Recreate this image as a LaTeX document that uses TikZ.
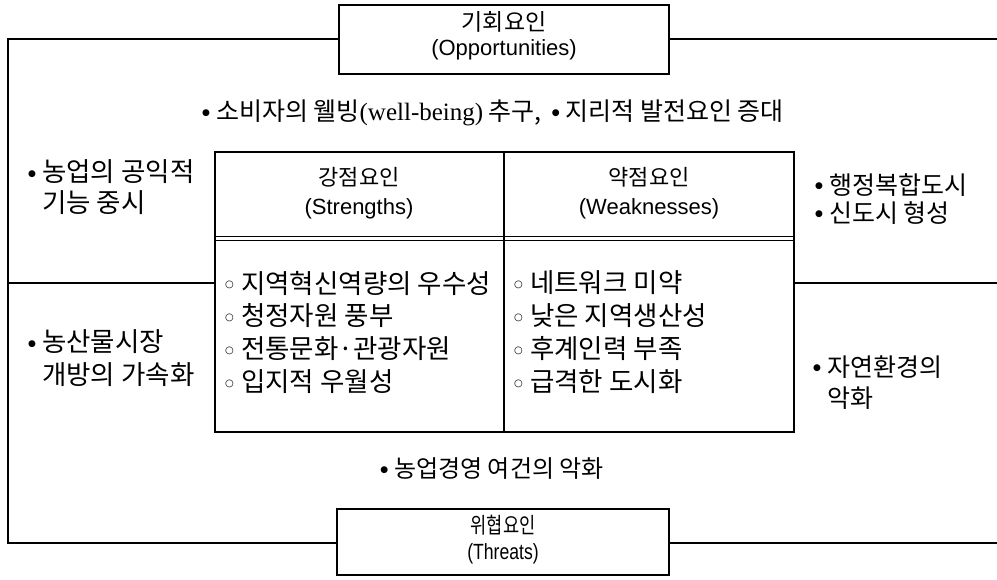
\documentclass[tikz,border=0pt]{standalone}
\usepackage{fontspec}
\setmainfont{Noto Sans CJK KR}
\newfontfamily\krf{Noto Sans CJK KR}
\newfontfamily\krnarrow{Noto Sans CJK KR}[FakeStretch=0.8]
\newfontfamily\latf{Liberation Sans}
\newfontfamily\latnarrow{Liberation Sans}[FakeStretch=0.8]
\newfontfamily\serf{Liberation Serif}
\newfontfamily\symf{DejaVu Sans}
\newcommand{\bul}{\makebox[14pt][l]{\raisebox{5.5pt}{\symf\fontsize{9}{9}\selectfont ●}}}
\newcommand{\cir}{\makebox[16pt][l]{\raisebox{5.5pt}{\symf\fontsize{10}{10}\selectfont ○}}}
\begin{document}
\begin{tikzpicture}[x=1pt,y=-1pt,
  frame/.style={line width=1.2pt, black},
  txt/.style={inner sep=0pt, font=\krf\fontsize{25}{25}\selectfont},
  lt/.style={txt, anchor=west},
  sl/.style={txt, anchor=west, font=\krf\fontsize{26.5}{26.5}\selectfont},
  ct/.style={txt, anchor=west, font=\krf\fontsize{26.5}{26.5}\selectfont},
  hd/.style={txt, font=\krf\fontsize{22}{22}\selectfont},
  hl/.style={txt, font=\latf\fontsize{22}{22}\selectfont}]
\useasboundingbox (0,0) rectangle (997,579);
% boxes
\node[draw, frame, minimum width=330pt, minimum height=69pt, inner sep=0pt] (opp) at (504,39.5) {};
\node[draw, frame, minimum width=332pt, minimum height=66pt, inner sep=0pt] (thr) at (503,542) {};
\node[draw, frame, minimum width=579pt, minimum height=280pt, inner sep=0pt] (ctr) at (504.5,292) {};
% outer frame
\coordinate (tl) at (8,39);
\coordinate (tr) at (997,39);
\coordinate (bl) at (8,543);
\coordinate (br) at (997,543);
\draw[frame] (opp.west |- tl) -- (tl) -- (bl) -- (thr.west |- bl);
\draw[frame] (opp.east |- tr) -- (tr);
\draw[frame] (thr.east |- br) -- (br);
% centre dividers
\coordinate (mt) at (504,152);
\coordinate (mb) at (504,432);
\draw[frame] (mt) -- (mb);
\draw[line width=0.9pt] (ctr.west |- 0,236) -- (ctr.east |- 0,236);
\draw[line width=0.9pt] (ctr.west |- 0,240) -- (ctr.east |- 0,240);
% side dividers
\coordinate (lm) at (8,283);
\coordinate (rm) at (997,283);
\draw[frame] (lm) -- (ctr.west |- lm);
\draw[frame] (ctr.east |- rm) -- (rm);
% titles
\node[hd, font=\krf\fontsize{23}{23}\selectfont] (oppk) at (504,22) {기회요인};
\node[hl, font=\latf\fontsize{22}{22}\selectfont] (oppe) at (504,50) {(Opportunities)};
\node[hd, font=\krnarrow\fontsize{22}{22}\selectfont] (thrk) at (503,525) {위협요인};
\node[hl, font=\latnarrow\fontsize{22}{22}\selectfont] (thre) at (503,554) {(Threats)};
% opportunity line
\node[txt] (o1) at (493,113) {\bul 소비자의 웰빙{\serf(well-being)} 추구,\hspace{10pt}\bul 지리적 발전요인 증대};
% left
\node[sl] (l1) at (28,172) {\bul 농업의 공익적};
\node[sl] (l2) at (42,203) {기능 중시};
\node[sl] (l3) at (28,342) {\bul 농산물시장};
\node[sl] (l4) at (42,375) {개방의 가속화};
% right
\node[lt] (r1) at (815,185) {\bul 행정복합도시};
\node[lt] (r2) at (815,213) {\bul 신도시 형성};
\node[lt] (r3) at (813,367) {\bul 자연환경의};
\node[lt] (r4) at (827,398) {악화};
% headers
\node[hd] (sk) at (359,177) {강점요인};
\node[hl] (se) at (359,209) {(Strengths)};
\node[hd] (wk) at (649,177) {약점요인};
\node[hl] (we) at (649,209) {(Weaknesses)};
% strengths
\node[ct] (s1) at (225,283) {\cir 지역혁신역량의 우수성};
\node[ct] (s2) at (225,316) {\cir 청정자원 풍부};
\node[ct] (s3) at (225,349) {\cir 전통문화·관광자원};
\node[ct] (s4) at (225,382) {\cir 입지적 우월성};
% weaknesses
\node[ct] (w1) at (514,283) {\cir 네트워크 미약};
\node[ct] (w2) at (514,316) {\cir 낮은 지역생산성};
\node[ct] (w3) at (514,349) {\cir 후계인력 부족};
\node[ct] (w4) at (514,382) {\cir 급격한 도시화};
% threat line
\node[txt, font=\krf\fontsize{24}{24}\selectfont] (t1) at (492,469) {\bul 농업경영 여건의 악화};
\end{tikzpicture}
\end{document}
